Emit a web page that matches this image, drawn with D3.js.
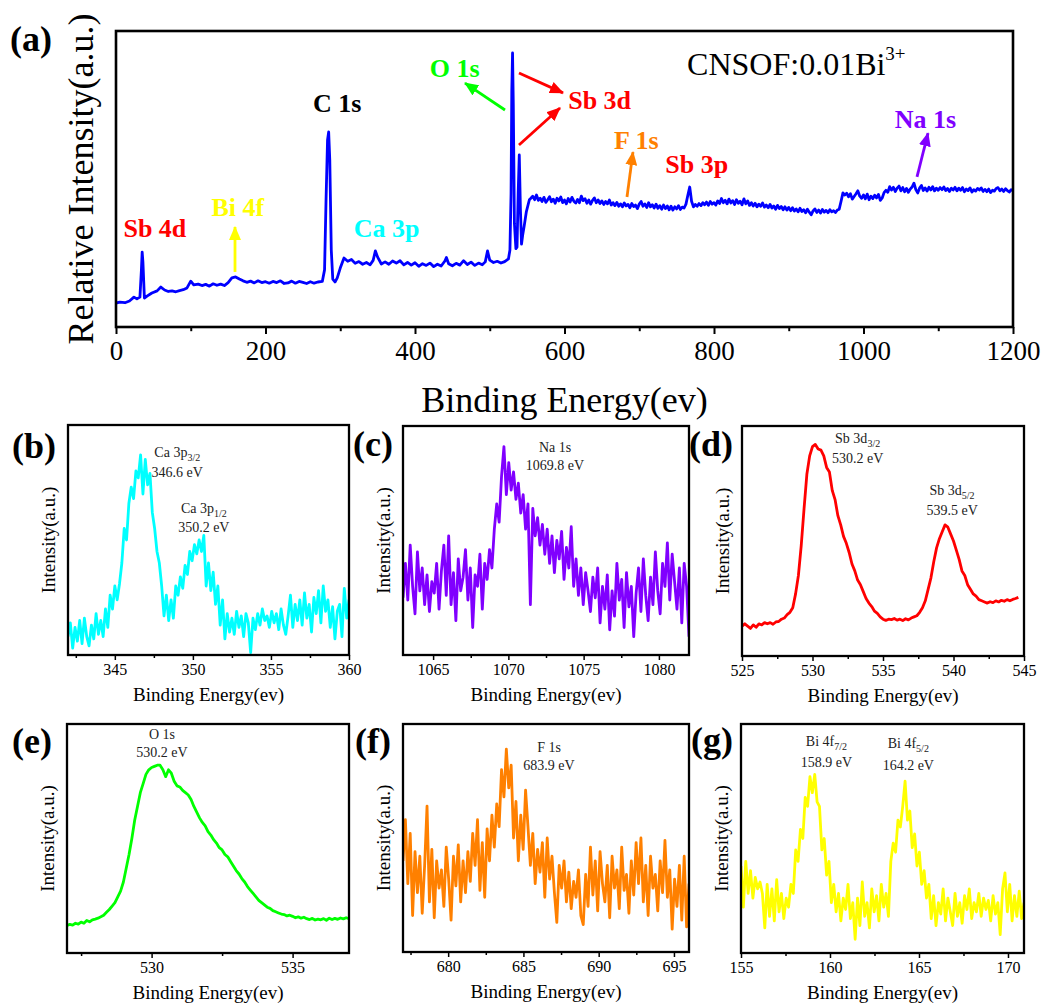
<!DOCTYPE html>
<html>
<head>
<meta charset="utf-8">
<script src="https://cdn.jsdelivr.net/npm/d3@7"></script>
<style>
  body { margin: 0; background: #fff; }
  svg { display: block; font-family: "Times New Roman", "Liberation Serif", serif; }
</style>
</head>
<body>
<svg id="chart" width="1043" height="1008"></svg>
<script>
// (a) survey spectrum up to 553 eV, [binding energy, relative intensity]
const survey = [
  [0,8.1],[5,8.4],[12,8.2],[18,8.8],[24,10.1],[28,9.5],[32,10.1],[34,19.3],[35,25.3],[36,22],[38,9.8],[42,10.5],
  [48,11.5],[55,12.2],[60,13.5],[65,12.5],[70,12.0],[75,12.2],[80,11.9],[85,12.3],[90,12.6],[95,13.2],[100,15.5],[104,14.2],
  [110,14.5],[115,14.0],[120,14.4],[125,13.8],[130,14.6],[135,14.1],[140,14.5],[145,14.0],[150,15.0],[155,16.6],[160,16.9],
  [165,16.2],[170,15.6],[175,15.1],[180,15.5],[185,14.9],[190,15.6],[195,15.0],[200,15.3],[205,14.8],[210,15.4],[215,15.0],
  [220,15.6],[225,14.7],[230,14.9],[235,15.5],[240,14.8],[245,15.4],[250,15.1],[255,14.7],[260,15.3],[265,14.8],[270,15.2],
  [276,15.4],[279,19.3],[281,42.9],[283,63.2],[284.5,65.9],[286,56.4],[288,26],[290,16.2],[293,15.2],[296,16.6],[300,19.9],
  [305,23.3],[310,22.2],[315,22.8],[320,21.5],[325,22.1],[330,21.2],[335,21.8],[340,21.0],[344,22.5],[347,25.7],[350,23.6],
  [355,21.3],[360,22.0],[365,21.2],[370,22.3],[375,21.6],[380,22.4],[385,21.0],[390,21.8],[395,20.9],[400,21.7],[405,20.5],
  [410,21.4],[415,20.8],[420,21.6],[425,20.4],[430,21.2],[435,20.6],[440,22.3],[442,23.5],[445,21.4],[450,20.7],[455,21.5],
  [460,20.9],[465,22.4],[470,21.1],[475,21.9],[480,20.8],[485,21.6],[490,21.0],[494,22.0],[497,25.7],[500,22.6],[505,21.8],
  [510,22.2],[515,21.6],[520,22.1],[525,23.0],[527,26],[528.5,45],[529.5,80],[530.5,92.6],[531.5,75],[533,35],[535,26.5],
  [536.5,27],[538,45],[539.5,58.1],[541,40],[542.5,28],[544,31],[546,34],[549,39],[553,43]
]
// (a) survey tail, 555 -> 1200 eV every 2.5 eV
const surveyTailStart = 555
const surveyTailStep = 2.5
const surveyTail = [
  43.5,44.2,43.0,44.6,42.8,43.5,42.4,43.8,42.1,43.0,44.0,42.3,43.2,41.8,43.5,42.6,43.9,42.0,42.9,41.6,
  43.4,42.2,43.8,42.5,41.9,43.1,42.0,44.2,42.7,43.3,41.8,42.9,41.5,42.8,43.6,42.0,42.9,41.7,42.6,41.4,
  42.4,41.6,42.9,41.2,42.0,41.0,42.1,40.8,41.6,40.6,41.9,40.9,41.4,40.3,41.7,40.7,41.2,40.0,41.5,42.4,
  40.8,41.6,40.4,42.0,40.6,41.3,40.2,41.5,40.1,41.0,39.8,41.2,40.0,40.9,39.6,40.8,39.5,40.6,39.9,41.0,
  39.7,40.5,40.2,41.5,44.5,47.3,42.5,40.6,41.4,40.8,41.7,41.0,42.0,41.3,42.2,41.1,42.4,41.5,42.0,41.2,
  42.6,41.7,43.4,42.0,42.8,41.6,43.2,41.9,42.7,41.4,43.0,41.8,42.5,41.3,43.3,41.6,42.6,41.1,42.0,40.9,
  41.8,40.6,41.5,40.8,41.9,40.5,41.2,40.3,41.4,40.2,40.9,39.8,41.1,40.0,40.7,39.6,40.6,39.5,40.4,39.3,
  40.3,39.2,39.9,38.9,40.1,39.0,39.6,38.6,39.8,38.8,37.9,39.2,39.9,38.7,39.5,38.5,39.7,38.8,39.4,38.6,
  39.6,38.9,39.3,38.7,39.5,39.8,42.5,45.3,44.6,45.2,44.0,45.0,43.2,44.1,45.0,46.0,44.2,43.5,44.6,43.3,
  44.9,43.0,44.2,43.4,44.5,43.6,44.8,42.8,43.6,45.4,46.2,45.5,47.4,46.3,47.2,45.8,46.9,47.6,46.0,47.1,
  45.7,46.8,45.5,46.6,47.3,48.6,46.4,45.3,46.9,47.8,46.1,47.0,45.9,47.2,46.3,47.4,46.0,46.9,46.2,47.1,
  46.4,47.3,46.1,46.8,45.8,46.9,46.3,47.2,46.0,46.9,46.2,47.1,45.7,46.6,46.1,47.0,45.6,46.4,45.9,46.8,
  46.3,47.0,45.8,46.5,45.7,46.6,45.4,46.2,45.9,46.8,47.1,46.0,46.6,45.8,46.7,46.1,45.6,46.4,46.0
]
const surveyTicks = [0, 200, 400, 600, 800, 1000, 1200]
const surveyMinorTicks = [100, 300, 500, 700, 900, 1100]

// peak labels and arrows of the survey, in energy / intensity units
const surveyLabels = [
  { text: 'Sb 4d', color: '#ff0000', x: 52, y: 30.4 },
  { text: 'Bi 4f', color: '#ffff00', x: 163, y: 37.5 },
  { text: 'C 1s', color: '#000000', x: 296, y: 72.6 },
  { text: 'Ca 3p', color: '#00ffff', x: 362, y: 30.4 },
  { text: 'O 1s', color: '#00ff00', x: 453, y: 84.5 },
  { text: 'Sb 3d', color: '#ff0000', x: 647, y: 73.6 },
  { text: 'F 1s', color: '#ff8000', x: 696, y: 60.1 },
  { text: 'Sb 3p', color: '#ff0000', x: 777, y: 52 },
  { text: 'Na 1s', color: '#8000ff', x: 1083, y: 67.2 }
]
const surveyArrows = [
  { color: '#ffff00', x1: 159.2, y1: 18.6, x2: 159.2, y2: 33.8 },
  { color: '#00ff00', x1: 520.4, y1: 73.3, x2: 466.9, y2: 82.4 },
  { color: '#ff0000', x1: 539.1, y1: 85.8, x2: 598, y2: 79.1 },
  { color: '#ff0000', x1: 539.1, y1: 61.5, x2: 594, y2: 74 },
  { color: '#ff8000', x1: 683.6, y1: 43.9, x2: 691.6, y2: 59.1 },
  { color: '#8000ff', x1: 1071.6, y1: 50.7, x2: 1086.3, y2: 65.5 }
]

// (b) Ca 3p, 342 -> 360 eV
const caValues = [8,14,3,12,6,15,5,16,8,4,13,7,18,9,15,8,20,12,26,20,30,24,31,40,55,50,66,73,68,80,77,87,70,85,74,79,62,55,45,40,
  30,17,26,15,24,16,30,26,34,29,39,35,45,41,48,44,50,45,52,30,40,28,36,22,30,13,24,7,18,10,16,9,19,12,17,8,18,14,1,16,
  11,18,13,20,15,17,12,19,14,18,11,20,13,9,17,26,12,22,15,24,13,27,16,22,10,25,18,28,14,30,19,24,12,21,7,19,22,8,29,16,24]
// (c) Na 1s, 1063 -> 1082 eV
const naValues = [25,40,24,48,30,18,45,28,38,22,35,19,32,27,40,20,37,48,26,52,22,36,15,42,28,34,46,24,38,12,35,30,44,20,40,
  33,46,38,55,66,58,78,91,70,84,72,80,68,75,62,70,55,66,22,64,52,60,48,57,44,55,40,52,36,50,42,54,33,47,38,56,30,42,26,38,
  22,36,28,19,34,25,38,14,30,20,35,11,28,17,40,24,33,12,36,21,30,8,27,38,19,42,26,15,34,22,45,28,18,40,30,49,24,44,32,20,
  38,14,40,30,8]
// (d) Sb 3d, 525 -> 544.6 eV
const sbValues = [13,14,13,12,13.5,12.5,14,13.5,14.5,14,14.5,13.8,14.8,15,16,16.5,18,19,21,27,35,48,64,79,87,91,92,90,89.5,87,
  82,80,72,68,61,57,52,49,45,40,37,33,31,28,25,23,21.5,19.5,18.5,17,16,15.5,16,15.8,16.3,15.6,16,15.4,16.2,15.7,16.5,17,
  17.5,19,21,24,29,34,41,47,51,54,57,56,53,50,46,42,37,35,31,29,27,26,24.5,24,23.5,23,23.6,23.2,24,23.5,24.2,23.8,24.5,24,
  24.6,25,25.5]
// (e) O 1s, 527 -> 537 eV
const oValues = [12,12.5,12.2,13,12.6,13.5,13,14.2,13.6,14.5,14.8,15.2,15.8,16.5,17.8,19,20.5,22,24.5,27,31,37,43,50,58,64,70,
  74,78,80,81,81.5,82,82,80,77,80,78.5,75,73,72.5,71,70,69,67,64,61.5,59,57,55.5,53,51.5,49.5,48,46,45,43,42,40,38,36,34.5,
  32.5,31,29,27.5,26,24.5,23,22,21,20,19.5,18.5,18,17.5,17,16.8,16.2,16.5,16,15.4,15.8,15.2,15.6,15,14.6,15.1,14.4,14.8,14.5,
  15,14.3,15.2,14.6,15.1,14.7,15.3,14.9,15.4,15]
// (f) F 1s, 677 -> 696 eV
const fValues = [40,58,30,52,16,44,26,42,17,38,64,22,45,15,40,28,36,20,46,32,14,42,29,47,22,40,26,44,31,52,38,58,27,48,24,
  54,40,60,46,65,55,80,68,89,72,82,50,66,40,60,45,71,55,38,52,30,45,35,48,24,50,32,42,26,13,38,28,40,22,35,19,31,24,36,16,
  12,34,20,46,25,40,18,44,30,22,38,15,42,28,36,19,46,27,34,17,40,25,48,30,50,22,38,16,42,28,34,18,40,26,49,24,36,10,32,20,
  38,14,42,11,30]
// (g) Bi 4f, 155 -> 170.9 eV
const biValues = [38,20,40,26,36,24,33,28,31,26,11,30,16,28,14,32,18,26,15,24,20,30,26,45,40,54,50,68,64,77,70,78,66,64,45,
  50,34,40,22,30,18,26,14,24,19,30,15,22,6,24,12,31,16,22,11,28,18,25,14,30,20,26,16,40,48,44,58,55,64,75,58,62,46,52,38,
  44,30,36,24,30,15,25,12,22,17,28,14,24,18,12,26,16,22,13,25,19,28,15,22,18,26,16,24,19,23,14,25,17,22,8,28,35,18,30,14,
  25,16,27,15,22]

const panels = [
  { tag: '(b)', values: caValues, domain: [342, 360], color: '#00ffff', left: 68, top: 425, width: 281, height: 230,
    ticks: [345, 350, 355, 360], minor: [342.5, 347.5, 352.5, 357.5],
    tagPos: [12, 458],
    notes: [{ x: 349.0, lines: [['Ca 3p', '3/2', 86.1], ['346.6 eV', '', 77.4]] },
            { x: 350.7, lines: [['Ca 3p', '1/2', 61.7], ['350.2 eV', '', 53.5]] }] },
  { tag: '(c)', values: naValues, domain: [1063, 1082], color: '#8000ff', left: 403, top: 426, width: 286, height: 229,
    ticks: [1065, 1070, 1075, 1080], minor: [1067.5, 1072.5, 1077.5],
    tagPos: [353, 456],
    notes: [{ x: 1073.1, lines: [['Na 1s', '', 88.6], ['1069.8 eV', '', 80.8]] }] },
  { tag: '(d)', values: sbValues, domain: [525, 545], color: '#ff0000', left: 742, top: 426, width: 282, height: 230,
    ticks: [525, 530, 535, 540, 545], minor: [527.5, 532.5, 537.5, 542.5],
    tagPos: [689, 456], last: 544.6,
    notes: [{ x: 533.2, lines: [['Sb 3d', '3/2', 92.6], ['530.2 eV', '', 83.9]] },
            { x: 539.9, lines: [['Sb 3d', '5/2', 70], ['539.5 eV', '', 61.3]] }] },
  { tag: '(e)', values: oValues, domain: [527, 537], color: '#00ff00', left: 67, top: 724, width: 282, height: 229,
    ticks: [530, 535], minor: [527.5, 532.5],
    tagPos: [12, 753],
    notes: [{ x: 530.37, lines: [['O 1s', '', 93.4], ['530.2 eV', '', 85.6]] }] },
  { tag: '(f)', values: fValues, domain: [677, 696], color: '#ff8000', left: 403, top: 724, width: 286, height: 228,
    ticks: [680, 685, 690, 695], minor: [677.5, 682.5, 687.5, 692.5],
    tagPos: [355, 753],
    notes: [{ x: 686.7, lines: [['F 1s', '', 87.8], ['683.9 eV', '', 79.9]] }] },
  { tag: '(g)', values: biValues, domain: [155, 170.9], color: '#ffff00', left: 741, top: 724, width: 283, height: 229,
    ticks: [155, 160, 165, 170], minor: [157.5, 162.5, 167.5],
    tagPos: [691, 752],
    notes: [{ x: 159.8, lines: [['Bi 4f', '7/2', 90.4], ['158.9 eV', '', 81.2]] },
            { x: 164.4, lines: [['Bi 4f', '5/2', 89.5], ['164.2 eV', '', 79.9]] }] }
]

const svg = d3.select('#chart')

function frame (g, w, h, strokeWidth) {
  g.append('rect').attr('x', 0).attr('y', 0).attr('width', w).attr('height', h)
    .attr('fill', 'none').attr('stroke', '#000').attr('stroke-width', strokeWidth)
}

function bottomAxis (g, x, h, major, minor, size, fontSize, labelY, tickW) {
  const ax = g.append('g').attr('transform', `translate(0,${h})`)
    .call(d3.axisBottom(x).tickValues(major).tickSize(size).tickFormat(d3.format('d')))
  ax.select('.domain').remove()
  ax.selectAll('line').attr('stroke-width', tickW)
  ax.selectAll('text').attr('y', labelY).attr('dy', null)
    .attr('font-size', fontSize).attr('font-family', 'Times New Roman, Liberation Serif, serif').attr('fill', '#000')
  const mn = g.append('g').attr('transform', `translate(0,${h})`)
    .call(d3.axisBottom(x).tickValues(minor).tickSize(size * 0.6).tickFormat(''))
  mn.select('.domain').remove()
  mn.selectAll('line').attr('stroke-width', tickW)
}

// ---------- (a) survey ----------
const A = { left: 116, top: 31, width: 897, height: 296 }
const ga = svg.append('g').attr('transform', `translate(${A.left},${A.top})`)
const xa = d3.scaleLinear().domain([0, 1200]).range([0, A.width])
const ya = d3.scaleLinear().domain([0, 100]).range([A.height, 0])

const surveyAll = survey.concat(surveyTail.map((v, i) => [surveyTailStart + i * surveyTailStep, v]))

const defs = svg.append('defs')
const arrowColors = Array.from(new Set(surveyArrows.map(d => d.color)))
arrowColors.forEach((c, i) => {
  defs.append('marker').attr('id', 'arrow' + i)
    .attr('viewBox', '0 0 14 12').attr('refX', 13).attr('refY', 6)
    .attr('markerWidth', 14).attr('markerHeight', 12).attr('markerUnits', 'userSpaceOnUse')
    .attr('orient', 'auto')
    .append('path').attr('d', 'M0,0 L14,6 L0,12 Z').attr('fill', c)
})

defs.append('clipPath').attr('id', 'clip-a').append('rect')
  .attr('width', A.width).attr('height', A.height)

ga.append('path').datum(surveyAll)
  .attr('clip-path', 'url(#clip-a)')
  .attr('fill', 'none').attr('stroke', '#0000ff').attr('stroke-width', 2.8).attr('stroke-linejoin', 'round')
  .attr('d', d3.line().x(d => xa(d[0])).y(d => ya(d[1])))

frame(ga, A.width, A.height, 2.6)
bottomAxis(ga, xa, A.height, surveyTicks, surveyMinorTicks, 7, 27, 33, 2)

ga.selectAll('.peak').data(surveyLabels).join('text')
  .attr('class', 'peak')
  .attr('x', d => xa(d.x)).attr('y', d => ya(d.y))
  .attr('text-anchor', 'middle').attr('font-weight', 'bold').attr('font-size', 26)
  .attr('fill', d => d.color).text(d => d.text)

ga.selectAll('.arrow').data(surveyArrows).join('line')
  .attr('class', 'arrow')
  .attr('x1', d => xa(d.x1)).attr('y1', d => ya(d.y1))
  .attr('x2', d => xa(d.x2)).attr('y2', d => ya(d.y2))
  .attr('stroke', d => d.color).attr('stroke-width', 2.8)
  .attr('marker-end', d => `url(#arrow${arrowColors.indexOf(d.color)})`)

const sample = ga.append('text').attr('x', xa(764)).attr('y', ya(85.1))
  .attr('font-size', 32).attr('fill', '#000')
sample.append('tspan').text('CNSOF:0.01Bi')
sample.append('tspan').attr('dy', -15).attr('font-size', 19).text('3+')

svg.append('text').attr('transform', `translate(93,${A.top + A.height / 2}) rotate(-90)`)
  .attr('text-anchor', 'middle').attr('font-size', 36).text('Relative Intensity(a.u.)')
svg.append('text').attr('x', A.left + A.width / 2).attr('y', 412)
  .attr('text-anchor', 'middle').attr('font-size', 36).text('Binding Energy(ev)')
svg.append('text').attr('x', 10).attr('y', 51)
  .attr('font-size', 36).attr('font-weight', 'bold').text('(a)')

// ---------- (b)-(g) high resolution ----------
panels.forEach((p, k) => {
  const g = svg.append('g').attr('transform', `translate(${p.left},${p.top})`)
  const end = p.last !== undefined ? p.last : p.domain[1]
  const x = d3.scaleLinear().domain(p.domain).range([0, p.width])
  const y = d3.scaleLinear().domain([0, 100]).range([p.height, 0])
  const n = p.values.length
  const pts = p.values.map((v, i) => [p.domain[0] + i * (end - p.domain[0]) / (n - 1), v])

  defs.append('clipPath').attr('id', 'clip' + k).append('rect')
    .attr('width', p.width).attr('height', p.height)

  g.append('path').datum(pts)
    .attr('clip-path', `url(#clip${k})`)
    .attr('fill', 'none').attr('stroke', p.color).attr('stroke-width', 2.8).attr('stroke-linejoin', 'round')
    .attr('d', d3.line().x(d => x(d[0])).y(d => y(d[1])))

  frame(g, p.width, p.height, 2.3)
  bottomAxis(g, x, p.height, p.ticks, p.minor, 5, 16, 20, 1.5)

  p.notes.forEach(note => {
    note.lines.forEach(([main, sub, yv]) => {
      const t = g.append('text').attr('x', x(note.x)).attr('y', y(yv))
        .attr('text-anchor', 'middle').attr('font-size', 14).attr('fill', '#222')
      t.append('tspan').text(main)
      if (sub) t.append('tspan').attr('dy', 4).attr('font-size', 10).text(sub)
    })
  })

  svg.append('text').attr('transform', `translate(${p.left - 13},${p.top + p.height / 2}) rotate(-90)`)
    .attr('text-anchor', 'middle').attr('font-size', 19).text('Intensity(a.u.)')
  svg.append('text').attr('x', p.left + p.width / 2).attr('y', p.top + p.height + 46)
    .attr('text-anchor', 'middle').attr('font-size', 19).text('Binding Energy(ev)')
  svg.append('text').attr('x', p.tagPos[0]).attr('y', p.tagPos[1])
    .attr('font-size', 36).attr('font-weight', 'bold').text(p.tag)
})
</script>
</body>
</html>
